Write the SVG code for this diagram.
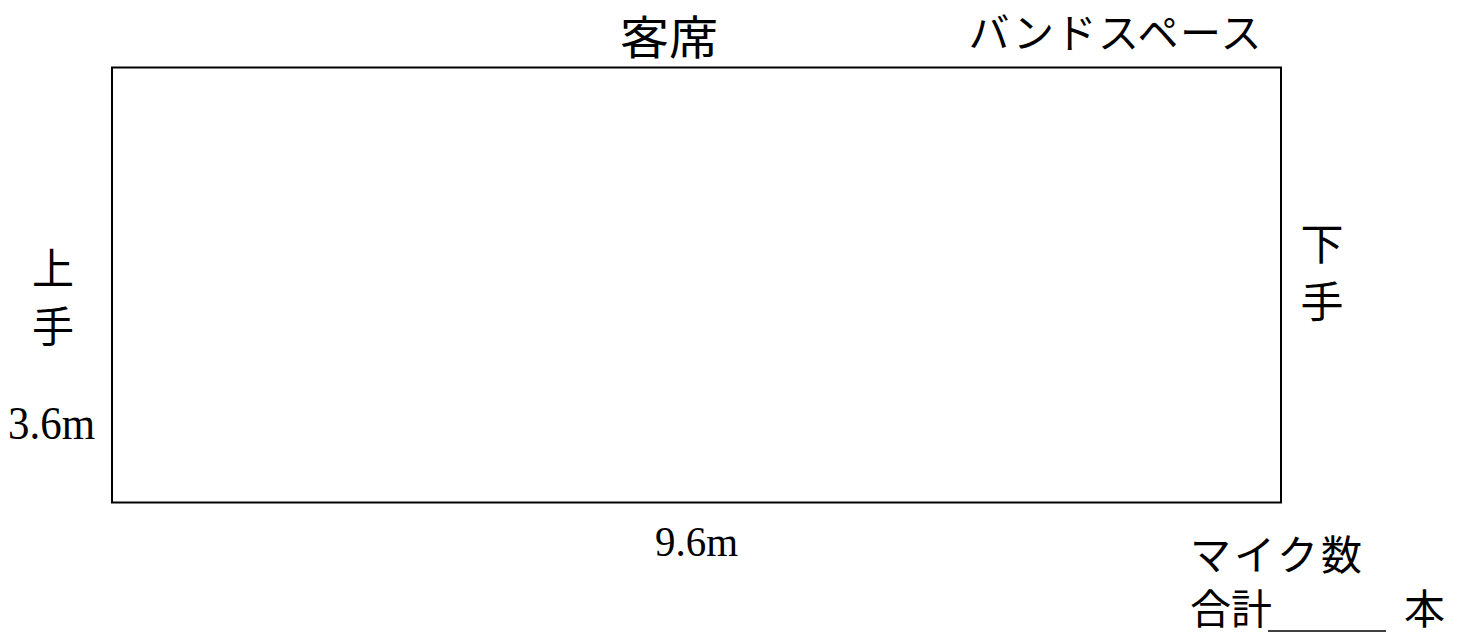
<svg xmlns="http://www.w3.org/2000/svg" width="1463" height="634" viewBox="0 0 1463 634">
<style>
.jp{font-family:"Noto Sans CJK JP","Noto Sans CJK SC",sans-serif;fill:#000}
.num{font-family:"Liberation Serif",serif;fill:#000}
</style>
<rect width="1463" height="634" fill="#fff"/>
<g id="stage">
<rect x="112" y="67.5" width="1169" height="435" fill="none" stroke="#000" stroke-width="2"/>
</g>
<g id="audience"><text class="jp" x="669" y="54" font-size="46" text-anchor="middle" textLength="98" lengthAdjust="spacingAndGlyphs">客席</text></g>
<g id="band"><text class="jp" x="1115" y="48" font-size="41" text-anchor="middle" textLength="293" lengthAdjust="spacing">バンドスペース</text></g>
<g id="kamite">
<text class="jp" x="53" y="284" font-size="42" text-anchor="middle">上</text>
<text class="jp" x="53" y="342" font-size="42" text-anchor="middle">手</text>
</g>
<g id="shimote">
<text class="jp" x="1322" y="260" font-size="43" text-anchor="middle">下</text>
<text class="jp" x="1322" y="318" font-size="43" text-anchor="middle">手</text>
</g>
<g id="height"><text class="num" x="8" y="439" font-size="46" textLength="87" lengthAdjust="spacingAndGlyphs">3.6m</text></g>
<g id="width"><text class="num" x="655" y="556" font-size="43" textLength="83" lengthAdjust="spacingAndGlyphs">9.6m</text></g>
<g id="mic">
<text class="jp" x="1190" y="570" font-size="41" textLength="172" lengthAdjust="spacing">マイク数</text>
<text class="jp" x="1190" y="624" font-size="41">合計</text>
<line x1="1268" y1="631" x2="1386" y2="631" stroke="#000" stroke-width="1.5"/>
<text class="jp" x="1404" y="624" font-size="41">本</text>
</g>
</svg>
